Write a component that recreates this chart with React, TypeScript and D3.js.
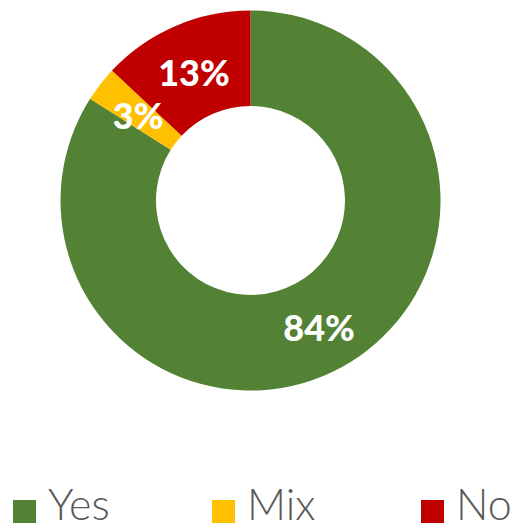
import { useEffect, useRef } from "react";
import * as d3 from "d3";

const categories = ["Yes", "Mix", "No"];
const values = [84, 3, 13];
const colors = ["#548235", "#FFC000", "#C00000"];

const width = 518;
const height = 529;

export default function App() {
  const svgRef = useRef<SVGSVGElement | null>(null);

  useEffect(() => {
    const svg = d3.select(svgRef.current);
    svg.selectAll("*").remove();

    const cx = 250.5;
    const cy = 200.5;
    const outerR = 190;
    const innerR = 94.5;

    const data = categories.map((c, i) => ({ name: c, value: values[i], color: colors[i] }));

    const pie = d3.pie<{ name: string; value: number; color: string }>()
      .value((d) => d.value)
      .sort(null);
    const arc = d3.arc<d3.PieArcDatum<{ name: string; value: number; color: string }>>()
      .innerRadius(innerR)
      .outerRadius(outerR);

    const g = svg.append("g").attr("transform", `translate(${cx},${cy})`);
    const arcs = pie(data);

    g.selectAll("path")
      .data(arcs)
      .join("path")
      .attr("d", arc)
      .attr("fill", (d) => d.data.color);

    // labels at arc centroid
    g.selectAll("text.lbl")
      .data(arcs)
      .join("text")
      .attr("class", "lbl")
      .attr("x", (d) => arc.centroid(d)[0])
      .attr("y", (d) => arc.centroid(d)[1] + 2)
      .attr("text-anchor", "middle")
      .attr("dominant-baseline", "central")
      .style("font-family", "Lato, 'Open Sans', sans-serif")
      .style("font-weight", 900)
      .style("font-size", "36px")
      .style("fill", "#ffffff")
      .text((d) => `${d.data.value}%`);

    // legend
    const legendX = [13, 212, 421];
    const leg = svg.append("g");
    data.forEach((d, i) => {
      leg.append("rect")
        .attr("x", legendX[i])
        .attr("y", 500)
        .attr("width", 23)
        .attr("height", 23)
        .attr("fill", d.color);
      leg.append("text")
        .attr("x", legendX[i] + 35)
        .attr("y", 520)
        .style("font-family", "Lato, 'Open Sans', sans-serif")
        .style("font-weight", 300)
        .style("font-size", "43px")
        .style("fill", "#595959")
        .text(d.name);
    });
  }, []);

  return (
    <svg
      ref={svgRef}
      width={width}
      height={height}
      style={{ position: "absolute", left: 0, top: 0, background: "#ffffff" }}
    />
  );
}
